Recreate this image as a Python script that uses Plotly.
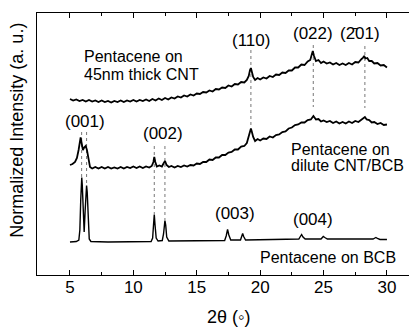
import plotly.graph_objects as go

# ---------------- data (2theta in degrees, normalized intensity in a.u., offset stacked) ----------------
thick_cnt_2theta = [5.0, 5.25, 5.5, 5.75, 6.0, 6.25, 6.5, 6.75, 7.0, 7.25, 7.5, 7.75, 8.0, 8.25, 8.5, 8.75,
                    9.0, 9.25, 9.5, 9.75, 10.0, 10.25, 10.5, 10.75, 11.0, 11.25, 11.5, 11.75, 12.0, 12.25,
                    12.5, 12.75, 13.0, 13.25, 13.5, 13.75, 14.0, 14.25, 14.5, 14.75, 15.0, 15.25, 15.5,
                    15.75, 16.0, 16.25, 16.5, 16.75, 17.0, 17.25, 17.5, 17.75, 18.0, 18.25, 18.5, 18.75,
                    18.95, 19.1, 19.2, 19.27, 19.35, 19.45, 19.6, 19.8, 20.0, 20.25, 20.5, 20.75, 21.0,
                    21.25, 21.5, 21.75, 22.0, 22.25, 22.5, 22.75, 23.0, 23.25, 23.5, 23.75, 23.95, 24.05,
                    24.15, 24.25, 24.4, 24.6, 24.8, 25.0, 25.25, 25.5, 25.75, 26.0, 26.25, 26.5, 26.75,
                    27.0, 27.25, 27.5, 27.75, 28.0, 28.1, 28.2, 28.3, 28.45, 28.6, 28.8, 29.0, 29.25,
                    29.5, 29.75, 30.0]
thick_cnt_int = [176, 174.5, 175.5, 174, 175, 173.5, 175, 173.5, 174.5, 173, 174.5, 173, 174, 172.5, 174, 173,
                 174.5, 173, 174.5, 173.5, 175, 173.5, 175, 174, 175.5, 174, 176, 174.5, 176.5, 175,
                 177, 175.5, 177.5, 176.5, 178.5, 177.5, 179.5, 178.5, 180.5, 179.5, 181.5, 181, 183,
                 182.5, 184.5, 183.5, 186, 185.5, 187.5, 187, 189.5, 188.5, 191, 190.5, 193, 192.5,
                 195, 199, 205, 207, 203, 198, 195, 197, 195.5, 197.5, 196.5, 199, 198,
                 200.5, 200, 202.5, 202, 204.5, 204.5, 207.5, 207.5, 210.5, 210, 213.5, 215, 220,
                 224, 219, 214, 215, 212, 213.5, 211.5, 212.5, 210.5, 212, 210, 211.5, 210,
                 212, 210.5, 213, 212.5, 216, 217, 219, 216.5, 217, 214, 214, 211.5, 212,
                 209.5, 210, 207.5]

dilute_cnt_2theta = [5.0, 5.2, 5.4, 5.55, 5.68, 5.78, 5.84, 5.92, 6.02, 6.12, 6.24, 6.34, 6.45, 6.58, 6.75,
                     7.0, 7.25, 7.5, 7.75, 8.0, 8.25, 8.5, 8.75, 9.0, 9.25, 9.5, 9.75, 10.0, 10.25, 10.5,
                     10.75, 11.0, 11.25, 11.45, 11.58, 11.65, 11.73, 11.85, 12.05, 12.25, 12.4, 12.5,
                     12.62, 12.8, 13.0, 13.25, 13.5, 13.75, 14.0, 14.25, 14.5, 14.75, 15.0, 15.25, 15.5,
                     15.75, 16.0, 16.25, 16.5, 16.75, 17.0, 17.25, 17.5, 17.75, 18.0, 18.25, 18.5, 18.75,
                     18.95, 19.1, 19.2, 19.27, 19.35, 19.45, 19.6, 19.8, 20.0, 20.25, 20.5, 20.75, 21.0,
                     21.25, 21.5, 21.75, 22.0, 22.25, 22.5, 22.75, 23.0, 23.25, 23.5, 23.75, 24.0, 24.2,
                     24.4, 24.6, 24.8, 25.0, 25.25, 25.5, 25.75, 26.0, 26.25, 26.5, 26.75, 27.0, 27.25,
                     27.5, 27.75, 28.0, 28.15, 28.26, 28.4, 28.6, 28.8, 29.0, 29.25, 29.5, 29.75, 30.0]
dilute_cnt_int = [110, 111, 113, 117, 125, 135, 137.5, 132, 125, 127.5, 129, 125, 115, 108, 106.5,
                  108, 106.5, 108, 106.5, 108, 106.5, 107.5, 106.5, 108, 106.5, 108, 107, 108.5, 107, 108.5,
                  107, 108.5, 107.5, 109, 113, 118, 113, 108.5, 109.5, 108.5, 112, 114,
                  110, 108, 109, 107.5, 109, 108, 109.5, 108.5, 110, 109.5, 111.5, 111, 113,
                  113, 115.5, 115, 117.5, 117.5, 120, 120, 122.5, 123, 125.5, 125.5, 128.5, 129,
                  132, 138, 144, 146.5, 143, 138, 134, 136, 134.5, 136.5, 136, 138.5, 137.5,
                  140, 140.5, 143, 143.5, 146.5, 147.5, 150, 150.5, 152.5, 152.5, 155, 155.5, 159,
                  155.5, 156, 153.5, 154.5, 153, 154, 152, 153.5, 151.5, 153, 151.5, 153.5, 152,
                  154, 153, 155.5, 156.5, 158, 155.5, 155, 152.5, 153, 151, 152, 150, 150.5]

bcb_2theta = [5.0, 5.5, 5.7, 5.78, 5.85, 5.9, 5.93, 5.97, 6.05, 6.12, 6.2, 6.26, 6.31, 6.36, 6.44, 6.52,
              6.65, 8.0, 11.4, 11.52, 11.59, 11.65, 11.71, 11.8, 11.95, 12.28, 12.38, 12.44, 12.49,
              12.55, 12.63, 12.8, 15.0, 17.2, 17.32, 17.43, 17.53, 17.68, 18.45, 18.55, 18.62, 18.7,
              18.85, 21.0, 23.05, 23.17, 23.27, 23.38, 23.55, 24.8, 24.9, 24.98, 25.1, 25.3, 28.9,
              29.05, 29.13, 29.25, 29.45, 30.0]
bcb_int = [33, 33.5, 35, 45, 75, 95, 97.5, 90, 57, 43, 65, 85, 89.5, 83, 50, 36,
           33.5, 33, 33.5, 37, 50, 60.5, 50, 37, 34, 34.5, 41, 51, 54.5,
           50, 38, 34, 34, 34.5, 39, 45.5, 40, 35, 35, 38.5, 41.5, 38.5,
           35, 35.5, 36, 38.5, 40.5, 38, 36, 36, 37.5, 38.5, 37.5, 36, 36,
           37, 37.5, 36.5, 35.5, 35.5]

x_ticks = [5, 10, 15, 20, 25, 30]

# reflection guides: 2theta positions with top and bottom intensity of each guide
guide_2theta = [5.92, 6.31, 11.65, 12.49, 19.27, 24.19, 28.26]
guide_top = [143, 143, 129, 129, 225, 230, 229]
guide_bottom = [98, 90, 61, 55, 148, 168, 167]

# ---------------- figure ----------------
fig = go.Figure()

for gx, gt, gb in zip(guide_2theta, guide_top, guide_bottom):
    fig.add_trace(go.Scatter(x=[gx, gx], y=[gt, gb], mode="lines",
                             line=dict(color="#777777", width=1, dash="dot"),
                             hoverinfo="skip", showlegend=False))

for xs, ys, w in [(thick_cnt_2theta, thick_cnt_int, 1.8),
                  (dilute_cnt_2theta, dilute_cnt_int, 1.8),
                  (bcb_2theta, bcb_int, 1.4)]:
    fig.add_trace(go.Scatter(x=xs, y=ys, mode="lines",
                             line=dict(color="black", width=w),
                             showlegend=False))

FONT = "Liberation Sans, Arial, sans-serif"
annotations = []
peak_labels = [("(110)", 19.3, 235), ("(022)", 24.16, 242), ("(2\u030401)", 27.9, 242),
               ("(001)", 6.18, 153.5), ("(002)", 12.31, 142), ("(003)", 18.01, 61.7),
               ("(004)", 24.16, 56)]
for txt, x, y in peak_labels:
    annotations.append(dict(text=txt, x=x, y=y, xref="x", yref="y", showarrow=False,
                            xanchor="center", yanchor="middle",
                            font=dict(family=FONT, size=17, color="black")))

sample_labels = [("Pentacene on", 5.95, 219), ("45nm thick CNT", 5.95, 201.5),
                 ("Pentacene on", 22.27, 126.2), ("dilute CNT/BCB", 22.27, 110),
                 ("Pentacene on BCB", 19.83, 18.3)]
for txt, x, y in sample_labels:
    annotations.append(dict(text=txt, x=x, y=y, xref="x", yref="y", showarrow=False,
                            xanchor="left", yanchor="middle", height=14, valign="middle",
                            font=dict(family=FONT, size=16, color="black")))

annotations.append(dict(text="2\u03b8 (\u25e6)", x=(228 - 37) / 380, y=(275 - 317) / 262,
                        xref="paper", yref="paper", showarrow=False,
                        xanchor="center", yanchor="middle",
                        font=dict(family=FONT, size=18, color="black")))
annotations.append(dict(text="Normalized Intensity (a. u.)", x=(16.7 - 37) / 380, y=(275 - 130) / 262,
                        xref="paper", yref="paper", showarrow=False, textangle=-90,
                        xanchor="center", yanchor="middle",
                        font=dict(family=FONT, size=18, color="black")))

# page body has an 8px default margin, so the figure is sized/offset to compensate
fig.update_layout(
    width=409, height=319,
    margin=dict(l=29, r=0, t=5, b=52, pad=0),
    paper_bgcolor="white", plot_bgcolor="white",
    annotations=annotations,
    xaxis=dict(range=[2.4, 32.37], tickvals=x_ticks, ticktext=[str(v) for v in x_ticks],
               ticks="inside", ticklen=5, tickwidth=1, tickcolor="black",
               minor=dict(ticks="inside", ticklen=3, tickwidth=1, tickcolor="black",
                          tickvals=[7.5, 12.5, 17.5, 22.5, 27.5]),
               showline=True, linecolor="black", linewidth=1, mirror="allticks",
               showgrid=False, zeroline=False, ticklabelstandoff=-3,
               tickfont=dict(family=FONT, size=17, color="black")),
    yaxis=dict(range=[0, 262], showticklabels=False, ticks="",
               showline=True, linecolor="black", linewidth=1, mirror=False,
               showgrid=False, zeroline=False),
)

fig.write_html("out.html")
